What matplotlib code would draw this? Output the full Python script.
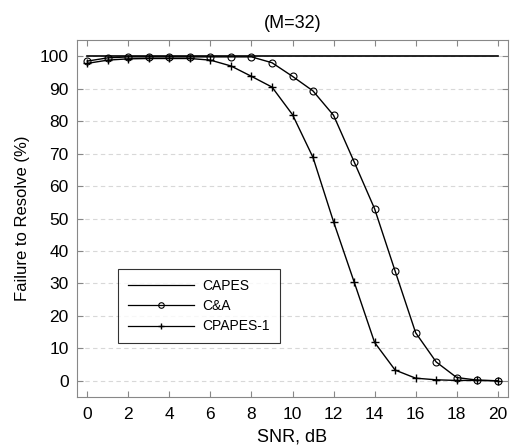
import matplotlib
matplotlib.use("Agg")
import matplotlib.pyplot as plt

snr = list(range(21))
capes = [100]*21
ca = [98.5, 99.5, 99.8, 99.8, 99.8, 99.8, 99.8, 99.8, 99.8, 98.0, 93.8, 89.3, 81.8, 67.5, 53.0, 33.8, 14.8, 5.8, 1.0, 0.2, 0.0]
cpapes = [97.8, 98.8, 99.2, 99.3, 99.3, 99.3, 98.8, 97.0, 93.8, 90.5, 82.0, 68.8, 49.0, 30.5, 11.8, 3.3, 0.8, 0.3, 0.1, 0.1, 0.0]

plt.rcParams['font.family'] = ['Liberation Sans', 'DejaVu Sans']
fig = plt.figure(figsize=(5.12, 4.46), dpi=100)
ax = fig.add_axes([77/512, 1-397/446, (508-77)/512, (397-40)/446])

ax.plot(snr, capes, color='black', lw=1.2, label='CAPES')
ax.plot(snr, ca, color='black', lw=1.0, marker='o', ms=5, mfc='none', mew=0.8, label='C&A')
ax.plot(snr, cpapes, color='black', lw=1.0, marker='+', ms=6, mew=1.0, label='CPAPES-1')

ax.set_xlim(-0.5, 20.5)
ax.set_ylim(-5, 105)
ax.set_xticks(range(0, 21, 2))
ax.set_yticks(range(0, 101, 10))
ax.yaxis.grid(True, ls=(0, (4, 3)), color='#d8d8d8', lw=0.8)
ax.set_axisbelow(True)
ax.tick_params(direction='in', top=True, right=True, labelsize=12.5, color='#888888', length=4)
ax.tick_params(axis='x', pad=7)
ax.tick_params(axis='y', pad=6)
for s in ax.spines.values():
    s.set_color('#888888')
ax.set_xlabel('SNR, dB', fontsize=13, labelpad=5)
ax.set_ylabel('Failure to Resolve (%)', fontsize=12, labelpad=7)
ax.set_title('(M=32)', fontsize=13, pad=9)
leg = ax.legend(loc='lower left', bbox_to_anchor=(0.095, 0.151), borderaxespad=0, fontsize=10, frameon=True,
                fancybox=False, edgecolor='black', handlelength=4.8, handletextpad=0.6,
                borderpad=0.7, labelspacing=0.45, markerscale=0.8)
leg.get_frame().set_linewidth(0.8)
for line in leg.get_lines():
    line.set_linewidth(0.9)
fig.savefig('out.png', dpi=100)
